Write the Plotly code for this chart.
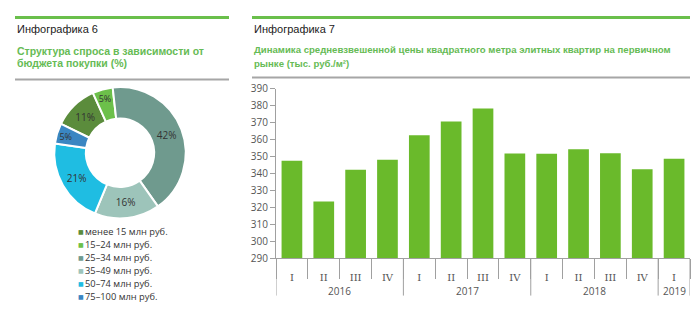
import plotly.graph_objects as go

# ---- data: donut (Инфографика 6)
pie_labels = ["менее 15 млн руб.", "15–24 млн руб.", "25–34 млн руб.",
              "35–49 млн руб.", "50–74 млн руб.", "75–100 млн руб."]
pie_values = [11, 5, 42, 16, 21, 5]
pie_colors = ["#5b8c3c", "#6cc04a", "#6f9a8e", "#9dc4ba", "#1fbde2", "#3a86c2"]

# ---- data: bars (Инфографика 7)
years = ["2016"] * 4 + ["2017"] * 4 + ["2018"] * 4 + ["2019"]
quarters = ["I", "II", "III", "IV"] * 3 + ["I"]
prices = [347.5, 323.5, 342.3, 348.2, 362.7, 370.8, 378.5, 351.8, 351.7, 354.3, 352.0, 342.6, 348.8]
y_ticks = list(range(290, 391, 10))

W, H = 700, 314
def px(x):
    return x / W
def py(y):
    return 1 - y / H

idx = list(range(len(prices)))
serif_q = ["<span style='font-family:DejaVu Serif'>%s</span>" % q for q in quarters]

groups = []
for i, yr in enumerate(years):
    if not groups or groups[-1][0] != yr:
        groups.append([yr, i, i])
    else:
        groups[-1][2] = i

fig = go.Figure()

fig.add_trace(go.Pie(
    labels=pie_labels, values=pie_values, sort=False, direction="clockwise",
    rotation=-64, hole=0.52,
    marker=dict(colors=pie_colors, line=dict(color="white", width=2)),
    texttemplate="%{value}%", textposition="inside", insidetextorientation="horizontal",
    textfont=dict(family="Open Sans", size=10, color="#333"),
    domain=dict(x=[px(51), px(189)], y=[py(221), py(83)]),
    showlegend=False, hoverinfo="label+value",
))

fig.add_trace(go.Bar(
    x=idx, y=prices, marker=dict(color="#6aba2b", line=dict(width=0)),
    showlegend=False, customdata=[y + " " + q for y, q in zip(years, quarters)],
    hovertemplate="%{customdata}: %{y}<extra></extra>",
))

AX = "#a0a0a0"
fig.update_layout(
    width=W, height=H, margin=dict(l=0, r=0, t=0, b=0),
    paper_bgcolor="white", plot_bgcolor="white",
    bargap=0.35,
    xaxis=dict(domain=[px(276), px(690)], range=[-0.5, len(prices) - 0.5],
               tickvals=idx, ticktext=serif_q,
               showline=True, linecolor=AX, linewidth=1,
               ticks="outside", ticklen=10, tickcolor="rgba(0,0,0,0)",
               minor=dict(tickvals=[i - 0.5 for i in range(len(prices) + 1)],
                          ticks="outside", ticklen=20, tickcolor=AX, showgrid=False),
               tickfont=dict(family="Open Sans", size=10, color="#555"),
               showgrid=False, zeroline=False),
    yaxis=dict(domain=[py(262.7), py(85)], range=[290, 390], tickvals=y_ticks,
               showline=True, linecolor=AX, linewidth=1,
               ticks="outside", ticklen=5, tickcolor=AX,
               tickfont=dict(family="Open Sans", size=10, color="#555"),
               showgrid=False, zeroline=False),
)

shapes = []
for x0, x1 in [(15, 229), (252, 690)]:
    shapes.append(dict(type="line", xref="paper", yref="paper", x0=px(x0), x1=px(x1),
                       y0=py(10), y1=py(10), line=dict(color="#6abf4b", width=3)))
shapes.append(dict(type="line", xref="paper", yref="paper", x0=px(15), x1=px(229),
                   y0=py(75), y1=py(75), line=dict(color="#a6a6a6", width=2)))
shapes.append(dict(type="line", xref="paper", yref="paper", x0=px(252), x1=px(690),
                   y0=py(73), y1=py(73), line=dict(color="#a6a6a6", width=2)))

ann = []
bounds = [g[1] - 0.5 for g in groups] + [groups[-1][2] + 0.5]
for b in bounds:
    shapes.append(dict(type="line", xref="x", yref="paper", x0=b, x1=b,
                       y0=py(262.7), y1=py(302), line=dict(color=AX, width=1)))
for yr, a, b in groups:
    ann.append(dict(xref="x", yref="paper", x=(a + b) / 2, y=py(297), xanchor="center",
                    yanchor="middle", text=yr, showarrow=False,
                    font=dict(family="Open Sans", size=10, color="#555")))
fig.update_layout(shapes=shapes)

def text(x, y, s, size=11, color="#222", bold=False):
    ann.append(dict(xref="paper", yref="paper", x=px(x), y=py(y), xanchor="left", yanchor="middle",
                    text=("<b>%s</b>" % s) if bold else s, showarrow=False,
                    font=dict(family="Liberation Sans", size=size, color=color)))

text(15, 22, "Инфографика 6")
text(15, 45, "Структура спроса в зависимости от", 10.5, "#66bb55", True)
text(15, 58, "бюджета покупки (%)", 10.5, "#66bb55", True)
text(252, 22, "Инфографика 7")
text(252, 44, "Динамика средневзвешенной цены квадратного метра элитных квартир на первичном", 9.6, "#66bb55", True)
text(252, 58, "рынке (тыс. руб./м²)", 9.6, "#66bb55", True)

for i, (lab, col) in enumerate(zip(pie_labels, pie_colors)):
    yy = 235 + i * 13.6
    ann.append(dict(xref="paper", yref="paper", x=px(76), y=py(yy), xanchor="left", yanchor="middle",
                    text="■", showarrow=False, font=dict(family="DejaVu Sans", size=6, color=col)))
    ann.append(dict(xref="paper", yref="paper", x=px(83), y=py(yy), xanchor="left", yanchor="middle",
                    text=lab, showarrow=False, font=dict(family="Open Sans", size=9.3, color="#333")))
fig.update_layout(annotations=ann)

fig.write_html("out.html")
